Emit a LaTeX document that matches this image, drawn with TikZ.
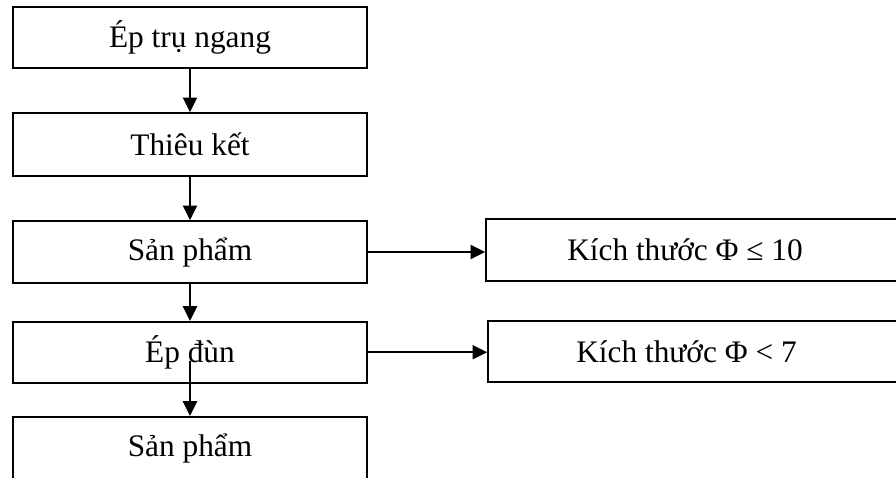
\documentclass[tikz,border=0pt]{standalone}
\usepackage{fontspec}
\setmainfont{Liberation Serif}
\usetikzlibrary{arrows.meta}
\begin{document}
\begin{tikzpicture}[x=0.75pt,y=-0.75pt,
  box/.style={draw, line width=1.2pt, inner sep=0pt, font=\fontsize{23.5}{28}\selectfont},
  conn/.style={-{Triangle[length=11pt,width=10.5pt]}, line width=1.5pt}]
\useasboundingbox (0,0) rectangle (896,478);
\clip (0,0) rectangle (896,478);
\node[box, minimum width=265.5pt, minimum height=45.75pt] (b1) at (190,37.5) {Ép trụ ngang};
\node[box, minimum width=265.5pt, minimum height=47.25pt] (b2) at (190,144.5) {Thiêu kết};
\node[box, minimum width=265.5pt, minimum height=46.5pt] (b3) at (190,252) {Sản phẩm};
\node[box, minimum width=265.5pt, minimum height=45.75pt] (b4) at (190,352.2) {Ép đùn};
\node[box, minimum width=265.5pt, minimum height=48pt] (b5) at (190,448.7) {Sản phẩm};
\node[box, minimum width=333pt, minimum height=46.5pt] (r1) at (708,250) {Kích thước Φ ≤ 10\rule{34.5pt}{0pt}};
\node[box, minimum width=331.5pt, minimum height=45.75pt] (r2) at (709,351.5) {Kích thước Φ < 7\rule{33.75pt}{0pt}};
\coordinate (s4) at (190,360.7);
\draw[conn] (b1.south) -- (b2.north);
\draw[conn] (b2.south) -- (b3.north);
\draw[conn] (b3.south) -- (b4.north);
\draw[conn] (s4) -- (b5.north);
\draw[conn] (b3.east) -- (b3.east -| r1.west);
\draw[conn] (b4.east) -- (b4.east -| r2.west);
\end{tikzpicture}
\end{document}
